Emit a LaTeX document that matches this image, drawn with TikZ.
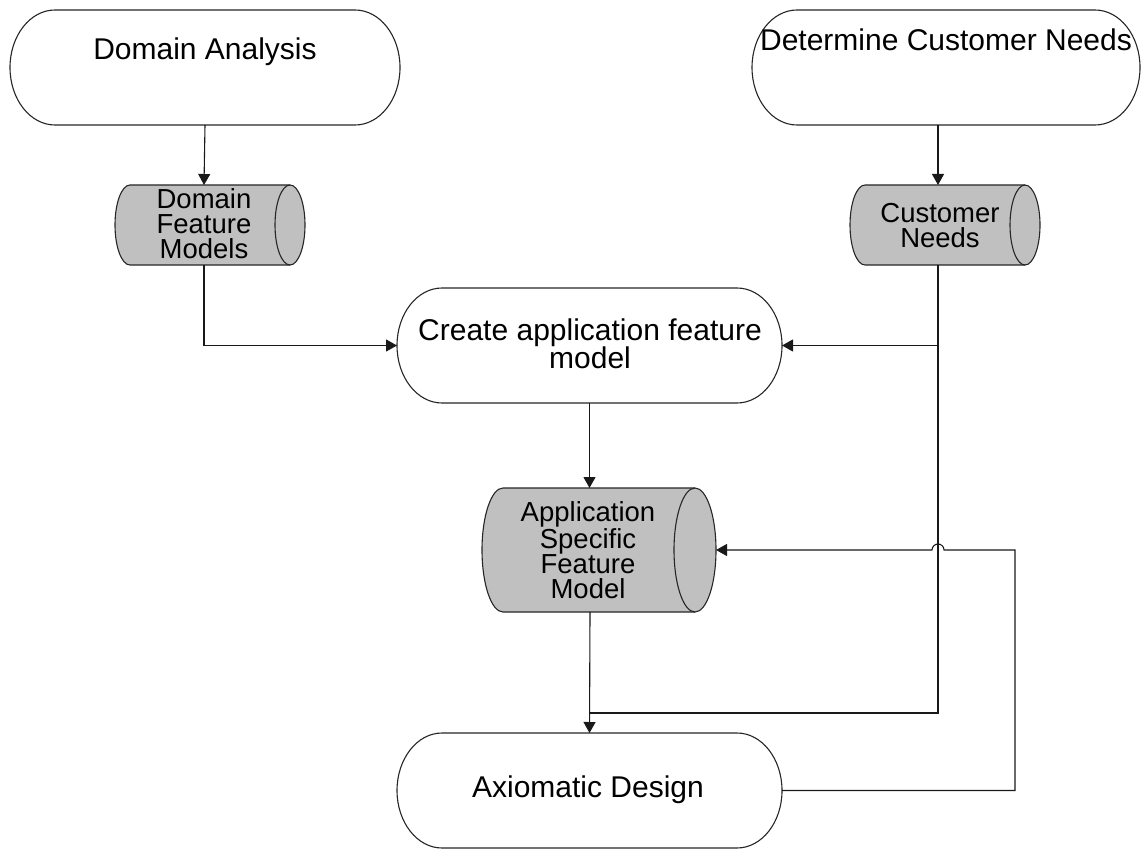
\documentclass[tikz,border=0pt]{standalone}
\usepackage{fontspec}
\setmainfont{Liberation Sans}
\usetikzlibrary{arrows.meta,calc}

\tikzset{
  outline/.style={draw=black!85, line width=1.1pt},
  conn/.style={draw=black!90, line width=1.1pt},
  arr/.style={conn, -{Triangle[length=11pt,width=12pt]}},
  anchorbox/.style={rectangle, draw=none, inner sep=0pt, outer sep=0pt},
  termtext/.style={font=\fontsize{30}{28.5}\selectfont, align=center, inner sep=0pt},
  cyltext/.style={font=\fontsize{27.5}{25}\selectfont, align=center, inner sep=0pt},
}

% terminator outline: left x, top y, right x, bottom y (y axis points down)
\newcommand\termshape[4]{%
  \path[outline, fill=white]
    ({#1+45},#2) -- ({#3-45},#2)
    arc[start angle=90, end angle=-90, x radius=45pt, y radius={(#4-#2)/2*1pt}]
    -- ({#1+45},#4)
    arc[start angle=270, end angle=90, x radius=45pt, y radius={(#4-#2)/2*1pt}]
    -- cycle;}

% horizontal cylinder: left x, top y, right x, bottom y, cap depth
\newcommand\cylshape[5]{%
  \path[outline, fill=cylgray]
    ({#1+#5},#2) -- ({#3-#5},#2)
    arc[start angle=90, end angle=-90, x radius=#5pt, y radius={(#4-#2)/2*1pt}]
    -- ({#1+#5},#4)
    arc[start angle=270, end angle=90, x radius=#5pt, y radius={(#4-#2)/2*1pt}]
    -- cycle;
  \path[outline]
    ({#3-#5},#2)
    arc[start angle=90, end angle=270, x radius=#5pt, y radius={(#4-#2)/2*1pt}];}

\definecolor{cylgray}{RGB}{192,192,192}

\begin{document}
\begin{tikzpicture}[x=1pt, y=-1pt]
  \useasboundingbox (0,0) rectangle (1142,850);

  % shape outlines
  \termshape{10}{10}{400}{125}
  \termshape{752}{10}{1140}{125}
  \termshape{397}{288}{782}{403}
  \termshape{397}{733}{782}{848}
  \cylshape{115}{185}{305}{265}{15}
  \cylshape{850}{185}{1040}{265}{15}
  \cylshape{482}{488}{716}{612}{21}

  % anchor boxes used by the connectors
  \node[anchorbox, minimum width=390pt, minimum height=115pt] (DA)   at (205,67.5) {};
  \node[anchorbox, minimum width=388pt, minimum height=115pt] (DC)   at (946,67.5) {};
  \node[anchorbox, minimum width=180pt, minimum height=80pt]  (DFM)  at (204,225) {};
  \node[anchorbox, minimum width=180pt, minimum height=80pt]  (CN)   at (938,225) {};
  \node[anchorbox, minimum width=385pt, minimum height=115pt] (CAF)  at (589.5,345.5) {};
  \node[anchorbox, minimum width=252pt, minimum height=124pt] (ASFM) at (590,550) {};
  \node[anchorbox, minimum width=385pt, minimum height=115pt] (AD)   at (589.5,790.5) {};

  % labels
  \node[termtext] (DAt)   at (205,52)  {Domain Analysis};
  \node[termtext] (DCt)   at (946,40)  {Determine Customer Needs};
  \node[cyltext]  (DFMt)  at (204,224) {Domain\\Feature\\Models};
  \node[cyltext]  (CNt)   at (940,226) {Customer\\Needs};
  \node[termtext] (CAFt)  at (590,344) {Create application feature\\model};
  \node[cyltext]  (ASFMt) at (588,550) {Application\\Specific\\Feature\\Model};
  \node[termtext] (ADt)   at (588,790) {Axiomatic Design};

  % connectors
  \draw[arr] (DA.south) -- (DFM.north);
  \draw[arr] (CN.north |- DC.south) -- (CN.north);
  \draw[arr] (DFM.south) |- (CAF.west);
  \draw[arr] (CN.south) |- (CAF.east);
  \draw[conn] (CN.south |- CAF.east) |- ([yshift=20pt]AD.north);
  \draw[arr] (CAF.south) -- (CAF.south |- ASFM.north);
  \draw[arr] (ASFM.south) -- (AD.north);
  \draw[arr] (AD.east) -- ++(233,0)
    |- ($(CN.south |- ASFM.east)+(6,0)$)
    arc[start angle=0, end angle=180, radius=6pt]
    -- (ASFM.east);
\end{tikzpicture}
\end{document}
